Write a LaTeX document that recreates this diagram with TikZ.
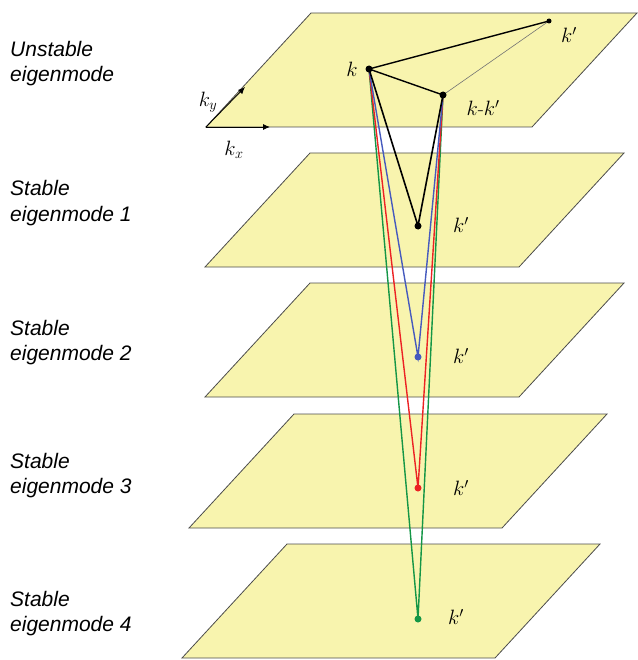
\documentclass[tikz,border=0pt]{standalone}
\usepackage{fontspec}
\setsansfont{Liberation Sans}
\usetikzlibrary{arrows.meta}
\definecolor{planefill}{RGB}{248,244,174}
\definecolor{modeblue}{RGB}{70,90,190}
\definecolor{modered}{RGB}{236,34,36}
\definecolor{modegreen}{RGB}{20,150,70}

\begin{document}
\begin{tikzpicture}[x=1pt,y=-1pt,
  plane/.style={fill=planefill,draw=black!70,line width=0.8pt},
  link/.style={line width=1.4pt},
  dot/.style={circle,fill,inner sep=0pt,minimum size=7pt},
  modelabel/.style={anchor=base west,align=left,inner sep=0pt,font=\sffamily\itshape\fontsize{21}{25}\selectfont},
  klabel/.style={inner sep=0pt,font=\fontsize{20}{22}\selectfont}]
\useasboundingbox (0,0) rectangle (637,660);
% planes, bottom left corner and width
\foreach \xl/\yb/\w in {206/127/326, 205/267/314, 205/397/314, 189/528/313, 182/658/313}
  \draw[plane] (\xl,\yb) -- ++(\w,0) -- ++(105,-114) -- ++(-\w,0) -- cycle;
% axes
\draw[line width=0.9pt,-{Latex[length=7pt,width=6pt]}] (206,127) -- (270,127);
\draw[line width=0.9pt,-{Latex[length=7pt,width=6pt]}] (206,127) -- (245,87);
\node[klabel] (ky) at (208,102) {$k_y$};
\node[klabel] (kx) at (234,150) {$k_x$};
% mode labels (base = last line)
\node[modelabel] (m0) at (10,82) {Unstable\\eigenmode};
\node[modelabel] (m1) at (10,221) {Stable\\eigenmode 1};
\node[modelabel] (m2) at (10,360) {Stable\\eigenmode 2};
\node[modelabel] (m3) at (10,493) {Stable\\eigenmode 3};
\node[modelabel] (m4) at (10,631) {Stable\\eigenmode 4};
% points
\coordinate (k) at (369,69);
\coordinate (kk) at (443,95);
\coordinate (kp) at (549,21);
\coordinate (p1) at (418,226);
\coordinate (p2) at (418,357);
\coordinate (p3) at (418,488);
\coordinate (p4) at (418,619);
% triangle
\draw[line width=0.6pt,black!55] (kk) -- (kp);
\draw[link] (kp) -- (k) -- (kk);
\draw[link,modegreen] (k) -- (p4) -- (kk);
\draw[link,modered] (k) -- (p3) -- (kk);
\draw[link,modeblue] (k) -- (p2) -- (kk);
\draw[link,line width=1.6pt] (k) -- (p1) -- (kk);
\node[dot] at (k) {};
\node[dot] at (kk) {};
\node[dot,minimum size=5pt] at (kp) {};
\node[dot] at (p1) {};
\node[dot,modeblue] at (p2) {};
\node[dot,modered] at (p3) {};
\node[dot,modegreen] at (p4) {};
% k labels
\node[klabel] (lk) at (352,69) {$k$};
\node[klabel] (lkk) at (483,108) {$k$-$k'$};
\node[klabel] (lkp) at (569,35) {$k'$};
\node[klabel] (l1) at (461,225) {$k'$};
\node[klabel] (l2) at (461,356) {$k'$};
\node[klabel] (l3) at (461,488) {$k'$};
\node[klabel] (l4) at (456,617) {$k'$};
\end{tikzpicture}
\end{document}
